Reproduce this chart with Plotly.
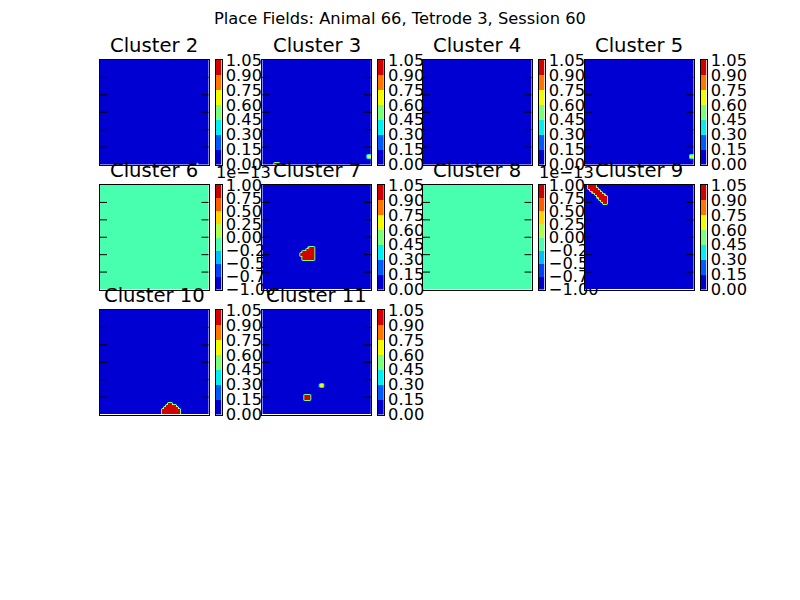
import numpy as np
import plotly.graph_objects as go

TITLE = "Place Fields: Animal 66, Tetrode 3, Session 60"
CLUSTERS = [2, 3, 4, 5, 6, 7, 8, 9, 10, 11]
GRID_N = 50

# Place-field cells: (row, first col, last col, rate)
field_2 = [(49, 44, 44, 0.35)]
field_3 = [(45, 48, 49, 0.70), (46, 48, 49, 0.70), (49, 5, 7, 0.95)]
field_4 = [(49, 21, 21, 0.30)]
field_5 = [(45, 48, 49, 0.70), (46, 48, 49, 0.70)]
field_6 = []
field_7 = [(29, 21, 23, 1.0), (30, 20, 23, 1.0), (31, 18, 23, 1.0), (32, 17, 23, 1.0),
           (33, 17, 23, 1.0), (34, 18, 23, 1.0), (35, 18, 23, 1.0)]
field_8 = []
field_9 = [(0, 1, 4, 1.0), (1, 1, 5, 1.0), (2, 2, 6, 1.0), (3, 3, 7, 1.0), (4, 4, 8, 1.0),
           (5, 5, 9, 1.0), (6, 6, 9, 1.0), (7, 7, 9, 1.0), (8, 8, 9, 1.0)]
field_10 = [(44, 31, 32, 0.95), (45, 30, 34, 1.0), (46, 29, 35, 1.0), (47, 28, 36, 1.0),
            (48, 28, 36, 1.0), (49, 28, 36, 1.0)]
field_11 = [(40, 19, 21, 1.0), (41, 19, 21, 1.0), (42, 19, 21, 1.0),
            (35, 26, 27, 0.70), (36, 26, 27, 0.70)]
FIELDS = [field_2, field_3, field_4, field_5, field_6, field_7, field_8, field_9, field_10, field_11]

LEVELS_RATE = [0.00, 0.15, 0.30, 0.45, 0.60, 0.75, 0.90, 1.05]
LEVELS_FLAT = [-1.00, -0.75, -0.50, -0.25, 0.00, 0.25, 0.50, 0.75, 1.00]
FLAT_SCALE = 1e-13
FLAT_CLUSTERS = [6, 8]

# styles
JET7 = ['#0000d2', '#005bff', '#06edf1', '#7bff7b', '#f1fc00', '#ff7500', '#d20000']
JET8 = ['#0000c8', '#0040ff', '#00bfff', '#48ffaf', '#afff48', '#ffd200', '#ff5c00', '#c80000']
FONT = "DejaVu Sans"
W, H = 800, 600
PANEL_LEFT = [100, 262.3, 423, 585]
PANEL_TOP = [60, 185, 310]
PANEL_W = 108.5
PANEL_H = 104.5
CB_OFFSET = 115.5
CB_W = 6
N_YDIV = 6


def step_scale(colors):
    # bands are (lower, upper]: a value on a boundary takes the lower band's colour
    n = len(colors)
    eps = 1e-6
    cs = []
    for i, c in enumerate(colors):
        a = 0.0 if i == 0 else i / n + eps
        b = 1.0 if i == n - 1 else (i + 1) / n + eps
        cs.append([a, c])
        cs.append([b, c])
    return cs


def fx(x):
    return x / W


def fy(y):
    return 1 - y / H


fig = go.Figure()
layout = {}
annotations = []
lo, hi = -0.5, GRID_N - 0.5
tick_pos = [lo + k * GRID_N / N_YDIV for k in range(1, N_YDIV)]

for i, (cl, cells) in enumerate(zip(CLUSTERS, FIELDS)):
    r, c = divmod(i, 4)
    L, T = PANEL_LEFT[c], PANEL_TOP[r]
    flat = cl in FLAT_CLUSTERS
    if flat:
        levels = [v * FLAT_SCALE for v in LEVELS_FLAT]
        colors = JET8
        labels = [f"{v:.2f}".replace("-", "\u2212") for v in LEVELS_FLAT]
    else:
        levels = LEVELS_RATE
        colors = JET7
        labels = [f"{v:.2f}" for v in LEVELS_RATE]
    cs = step_scale(colors)

    z = np.zeros((GRID_N, GRID_N))
    for (row, c0, c1, v) in cells:
        z[row, c0:c1 + 1] = v

    ki, kc = 2 * i + 1, 2 * i + 2
    si = "" if ki == 1 else str(ki)
    sc = str(kc)

    fig.add_trace(go.Heatmap(
        z=z, x=np.arange(GRID_N), y=np.arange(GRID_N), colorscale=cs,
        zmin=levels[0], zmax=levels[-1], zsmooth='best', showscale=False,
        xaxis='x' + si, yaxis='y' + si, hoverinfo='skip'))

    # inside tick marks on both vertical spines (clipped to the axes box)
    fig.add_trace(go.Scatter(
        x=[lo] * len(tick_pos) + [hi] * len(tick_pos), y=tick_pos + tick_pos,
        mode='markers', cliponaxis=True, hoverinfo='skip',
        marker=dict(symbol='line-ew-open', size=10, color='black',
                    line=dict(width=1, color='black')),
        xaxis='x' + si, yaxis='y' + si))

    mids = [(a + b) / 2 for a, b in zip(levels[:-1], levels[1:])]
    fig.add_trace(go.Heatmap(
        z=[[m] for m in mids], x=[0, 1], y=levels, colorscale=cs,
        zmin=levels[0], zmax=levels[-1], showscale=False,
        xaxis='x' + sc, yaxis='y' + sc, hoverinfo='skip'))

    xd = [fx(L), fx(L + PANEL_W)]
    yd = [fy(T + PANEL_H), fy(T)]
    layout['xaxis' + si] = dict(domain=xd, anchor='y' + si, range=[lo, hi],
                                showline=True, mirror=True, linecolor='black', linewidth=1,
                                ticks='', showticklabels=False, showgrid=False, zeroline=False,
                                automargin=False)
    layout['yaxis' + si] = dict(domain=yd, anchor='x' + si, range=[hi, lo],
                                showline=True, mirror=True, linecolor='black', linewidth=1,
                                ticks='', showticklabels=False, showgrid=False, zeroline=False,
                                automargin=False)
    cxd = [fx(L + CB_OFFSET), fx(L + CB_OFFSET + CB_W)]
    layout['xaxis' + sc] = dict(domain=cxd, anchor='y' + sc, range=[0, 1],
                                showline=True, mirror=True, linecolor='black', linewidth=1,
                                ticks='', showticklabels=False, showgrid=False, zeroline=False,
                                automargin=False)
    layout['yaxis' + sc] = dict(domain=yd, anchor='x' + sc, range=[levels[0], levels[-1]],
                                side='right', showline=True, mirror=True, linecolor='black',
                                linewidth=1, ticks='', tickmode='array', tickvals=levels,
                                ticktext=labels,
                                tickfont=dict(family=FONT, size=16.3, color='black'),
                                showgrid=False, zeroline=False, automargin=False)

    annotations.append(dict(text=f"Cluster {cl}", x=fx(L + PANEL_W / 2), y=fy(T),
                            xref='paper', yref='paper', xanchor='center', yanchor='bottom',
                            yshift=1, showarrow=False,
                            font=dict(family=FONT, size=19.6, color='black')))
    if flat:
        annotations.append(dict(text="1e\u221213", x=fx(L + CB_OFFSET - 1.5), y=fy(T),
                                xref='paper', yref='paper', xanchor='left', yanchor='bottom',
                                yshift=1, showarrow=False,
                                font=dict(family=FONT, size=16.3, color='black')))

annotations.append(dict(text=TITLE, x=0.5, y=fy(18), xref='paper', yref='paper',
                        xanchor='center', yanchor='middle', showarrow=False,
                        font=dict(family=FONT, size=16.3, color='black')))

fig.update_layout(width=W, height=H,
                  margin=dict(l=0, r=0, t=0, b=0, pad=0, autoexpand=False),
                  paper_bgcolor='white', plot_bgcolor='white', showlegend=False,
                  annotations=annotations, **layout)
fig.write_html("out.html")
